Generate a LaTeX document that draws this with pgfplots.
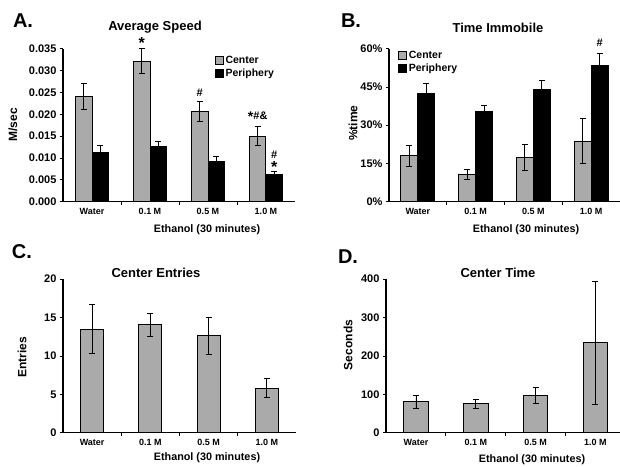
\documentclass[border=0pt]{standalone}
\usepackage{pgfplots}
\pgfplotsset{compat=1.18}
\usepackage{fontspec}
\setmainfont{Liberation Sans}
\definecolor{bargray}{RGB}{170,170,170}
\newcommand{\fs}[1]{\fontsize{#1}{#1}\selectfont\bfseries}
\pgfplotsset{
  panel/.style={
    scale only axis,
    axis x line*=bottom, axis y line*=left,
    axis line style={line width=1.1pt, -},
    xmin=0.5, xmax=4.5, ymin=0,
    xtick={1,2,3,4}, xticklabels={Water,0.1 M,0.5 M,1.0 M},
    major x tick style={draw=none},
    minor xtick={1.5,2.5,3.5},
    tick align=outside,
    major tick length=3pt, minor tick length=3pt,
    tick style={line width=0.9pt, black},
    x tick label style={font=\fs{9}},
    y tick label style={font=\fs{11}},
    scaled y ticks=false,
    /pgf/number format/assume math mode=true,
    clip=false,
    every axis plot/.append style={line width=1pt},
  },
  myerr/.style={error bars/.cd, y dir=both, y explicit,
    error bar style={line width=0.8pt, black},
    error mark options={rotate=90, mark size=3pt, line width=0.8pt, black}},
}
\begin{document}
\begin{tikzpicture}
\path[use as bounding box] (0,0) rectangle (620pt,466pt);

% ---------- A ----------
\begin{axis}[panel, at={(63pt,264.3pt)}, anchor=south west,
  width=232pt, height=153pt, ymax=0.035,
  ytick={0,0.005,0.01,0.015,0.02,0.025,0.03,0.035},
  yticklabel style={/pgf/number format/fixed, /pgf/number format/fixed zerofill, /pgf/number format/precision=3},
  ybar=0pt, bar width=16.5pt,
  legend style={draw=none, fill=none, inner sep=0pt, at={(rel axis cs:0.655,0.965)}, anchor=north west,
    font=\fs{10.5}, cells={anchor=west}, row sep=0pt},
  legend image code/.code={\draw[#1, draw=black, line width=0.8pt] (0pt,-3.8pt) rectangle (7.6pt,3.8pt);},
]
\addplot[fill=bargray, draw=black, myerr] coordinates {
  (1,0.02417) +- (0,0.0030)
  (2,0.03215) +- (0,0.0029)
  (3,0.02074) +- (0,0.0023)
  (4,0.01502) +- (0,0.0022)};
\addplot[fill=black, draw=black, myerr] coordinates {
  (1,0.01128) +- (0,0.0015)
  (2,0.01258) +- (0,0.0012)
  (3,0.00915) +- (0,0.0013)
  (4,0.00618) +- (0,0.0008)};
\legend{Center,Periphery}
\node[font=\fs{16}, xshift=-8.25pt] at (axis cs:2,0.0364) {*};
\node[font=\fs{11}, xshift=-8.25pt] at (axis cs:3,0.0250) {\#};
\node[font=\fs{11}, xshift=-8.25pt] at (axis cs:4,0.0194) {{\fs{14}\raisebox{-2pt}{*}}\#\&};
\node[font=\fs{11}, xshift=8.25pt] at (axis cs:4,0.0108) {\#};
\node[font=\fs{16}, xshift=8.25pt] at (axis cs:4,0.0080) {*};
\end{axis}

% ---------- B ----------
\begin{axis}[panel, at={(389pt,264.3pt)}, anchor=south west,
  width=231pt, height=153pt, ymax=60,
  ytick={0,15,30,45,60}, yticklabels={0\%,15\%,30\%,45\%,60\%},
  ybar=0pt, bar width=17pt,
  legend style={draw=none, fill=none, inner sep=0pt, at={(rel axis cs:0.04,1.0)}, anchor=north west,
    font=\fs{10.5}, cells={anchor=west}, row sep=0pt},
  legend image code/.code={\draw[#1, draw=black, line width=0.8pt] (0pt,-3.8pt) rectangle (7.6pt,3.8pt);},
]
\addplot[fill=bargray, draw=black, myerr] coordinates {
  (1,18.0) +- (0,4.2)
  (2,10.8) +- (0,1.9)
  (3,17.4) +- (0,5.2)
  (4,23.8) +- (0,8.8)};
\addplot[fill=black, draw=black, myerr] coordinates {
  (1,42.5) +- (0,4.0)
  (2,35.2) +- (0,2.6)
  (3,44.0) +- (0,3.5)
  (4,53.3) +- (0,4.8)};
\legend{Center,Periphery}
\node[font=\fs{11}, xshift=8.5pt] at (axis cs:4,62.3) {\#};
\end{axis}

% ---------- C ----------
\begin{axis}[panel, at={(63pt,33.3pt)}, anchor=south west,
  width=233pt, height=153.5pt, ymax=20,
  ytick={0,5,10,15,20},
  ybar, bar width=23pt,
]
\addplot[fill=bargray, draw=black, myerr] coordinates {
  (1,13.5) +- (0,3.2)
  (2,14.1) +- (0,1.5)
  (3,12.6) +- (0,2.4)
  (4,5.8) +- (0,1.25)};
\end{axis}

% ---------- D ----------
\begin{axis}[panel, at={(386pt,33.3pt)}, anchor=south west,
  width=234pt, height=153.5pt, xmax=4.41, ymax=400,
  ytick={0,100,200,300,400},
  ybar, bar width=24.5pt,
]
\addplot[fill=bargray, draw=black, myerr] coordinates {
  (1,81) +- (0,17)
  (2,75) +- (0,11.7)
  (3,98) +- (0,21)
  (4,234) +- (0,160)};
\end{axis}

% ---------- texts ----------
\node[font=\fs{20}] at (23pt,445pt) {A.};
\node[font=\fs{13}] at (155pt,439pt) {Average Speed};
\node[font=\fs{12}, rotate=90] at (13pt,341pt) {M/sec};
\node[font=\fs{10.8}] at (207pt,236pt) {Ethanol (30 minutes)};

\node[font=\fs{20}] at (351pt,445pt) {B.};
\node[font=\fs{13}] at (498pt,438pt) {Time Immobile};
\node[font=\fs{12}, rotate=90] at (353pt,343pt) {\%time};
\node[font=\fs{10.8}] at (526pt,236pt) {Ethanol (30 minutes)};

\node[font=\fs{20}] at (22pt,214pt) {C.};
\node[font=\fs{13}] at (156pt,193pt) {Center Entries};
\node[font=\fs{12}, rotate=90] at (22pt,109pt) {Entries};
\node[font=\fs{10.8}] at (207pt,8pt) {Ethanol (30 minutes)};

\node[font=\fs{20}] at (348pt,209pt) {D.};
\node[font=\fs{13}] at (498pt,193pt) {Center Time};
\node[font=\fs{12}, rotate=90] at (348pt,121pt) {Seconds};
\node[font=\fs{10.8}] at (532pt,6pt) {Ethanol (30 minutes)};
\end{tikzpicture}
\end{document}
